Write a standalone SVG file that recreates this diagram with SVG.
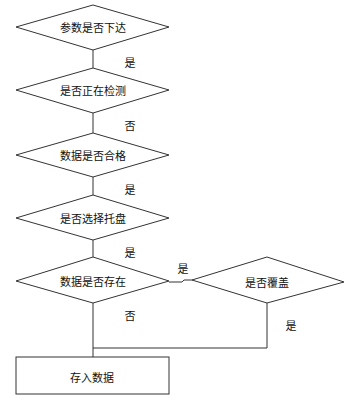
<svg xmlns="http://www.w3.org/2000/svg" width="348" height="399" viewBox="0 0 348 399">
<style>
.shape{fill:#fff;stroke:#333;stroke-width:1}
.line{fill:none;stroke:#333;stroke-width:1}
text{font-family:"Noto Sans CJK SC","Liberation Sans",sans-serif;font-size:11px;fill:#111;text-anchor:middle;dominant-baseline:central}
</style>
<rect width="348" height="399" fill="#fff"/>
<g id="connectors">
<line class="line" x1="93" y1="50" x2="93" y2="68"/>
<line class="line" x1="93" y1="113" x2="93" y2="133"/>
<line class="line" x1="93" y1="177" x2="93" y2="195"/>
<line class="line" x1="93" y1="240" x2="93" y2="257"/>
<polyline class="line" points="169,282 182,282 184,280 192,280"/>
<line class="line" x1="93" y1="303" x2="93" y2="357"/>
<polyline class="line" points="267,303 267,348 93,348"/>
<text x="130" y="62">是</text>
<text x="130" y="125">否</text>
<text x="130" y="189">是</text>
<text x="130" y="252">是</text>
<text x="183" y="268">是</text>
<text x="130" y="315">否</text>
<text x="291" y="325">是</text>
</g>
<g id="n1"><polygon class="shape" points="93,5 169,27 93,50 16,27"/><text x="93" y="27">参数是否下达</text></g>
<g id="n2"><polygon class="shape" points="93,68 169,90 93,113 16,90"/><text x="93" y="90">是否正在检测</text></g>
<g id="n3"><polygon class="shape" points="93,133 169,155 93,177 16,155"/><text x="93" y="155">数据是否合格</text></g>
<g id="n4"><polygon class="shape" points="93,195 169,218 93,240 16,218"/><text x="93" y="218">是否选择托盘</text></g>
<g id="n5"><polygon class="shape" points="93,257 169,281 93,303 16,281"/><text x="93" y="281">数据是否存在</text></g>
<g id="n6"><polygon class="shape" points="267,257 344,282 267,303 192,280"/><text x="267" y="282">是否覆盖</text></g>
<g id="n7"><rect class="shape" x="16" y="357" width="153" height="37"/><text x="92" y="377">存入数据</text></g>
</svg>
